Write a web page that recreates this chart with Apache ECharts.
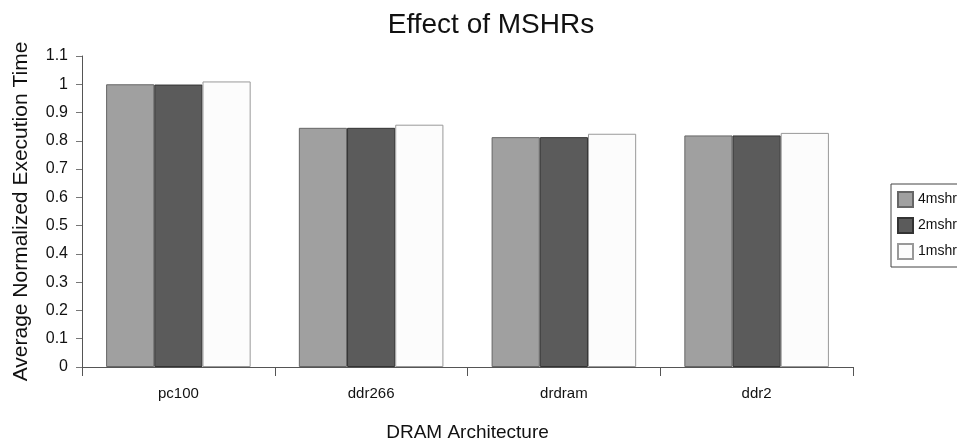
<!DOCTYPE html>
<html>
<head>
<meta charset="utf-8">
<script src="https://cdn.jsdelivr.net/npm/echarts@6/dist/echarts.min.js"></script>
<style>html,body{margin:0;padding:0;background:#fff;}#c{width:957px;height:439px;}</style>
</head>
<body>
<div id="c"></div>
<script>
const categories = ['pc100', 'ddr266', 'drdram', 'ddr2'];
const seriesNames = ['4mshr', '2mshr', '1mshr'];
const mshr4 = [1.0, 0.846, 0.813, 0.819];
const mshr2 = [0.999, 0.846, 0.813, 0.819];
const mshr1 = [1.01, 0.857, 0.825, 0.828];
const yTicks = ['0','0.1','0.2','0.3','0.4','0.5','0.6','0.7','0.8','0.9','1','1.1'];

const fills = ['#a0a0a0', '#5b5b5b', '#fcfcfc'];
const borders = ['#666666', '#333333', '#999999'];
const values = [mshr4, mshr2, mshr1];
const font = 'Liberation Sans, Arial, sans-serif';

const chart = echarts.init(document.getElementById('c'), null, {renderer: 'canvas'});
chart.setOption({
  animation: false,
  backgroundColor: '#ffffff',
  title: {
    text: 'Effect of MSHRs',
    left: 486, top: 6, textAlign: 'center',
    textStyle: {fontFamily: font, fontSize: 28, fontWeight: 'normal', color: '#111'}
  },
  legend: {
    orient: 'vertical',
    left: 891, top: 184,
    padding: [7, 10, 7, 6],
    itemWidth: 15, itemHeight: 15, itemGap: 9,
    icon: 'rect',
    borderColor: '#444', borderWidth: 1, borderRadius: 0,
    textStyle: {fontFamily: font, fontSize: 14, color: '#111'},
    data: seriesNames
  },
  grid: {left: 82, right: 104, top: 56, bottom: 72, containLabel: false, outerBoundsMode: 'none'},
  xAxis: {
    type: 'category',
    data: categories,
    name: 'DRAM Architecture',
    nameLocation: 'middle',
    nameGap: 56,
    nameTextStyle: {fontFamily: font, fontSize: 19, color: '#111'},
    axisLine: {lineStyle: {color: '#555', width: 1}},
    axisTick: {show: true, length: 9, alignWithLabel: false, lineStyle: {color: '#555'}},
    axisLabel: {fontFamily: font, fontSize: 15, color: '#111', margin: 19}
  },
  yAxis: {
    type: 'value',
    min: 0, max: 1.1, interval: 0.1,
    name: 'Average Normalized Execution Time',
    nameLocation: 'middle',
    nameGap: 50,
    nameTextStyle: {fontFamily: font, fontSize: 21, color: '#111'},
    axisLine: {show: true, lineStyle: {color: '#555', width: 1}},
    axisTick: {show: true, length: 6, lineStyle: {color: '#777'}},
    splitLine: {show: false},
    axisLabel: {
      fontFamily: font, fontSize: 16, color: '#111', margin: 14,
      formatter: function (v) { return yTicks[Math.round(v * 10)]; }
    }
  },
  series: seriesNames.map((n, i) => ({
    name: n,
    type: 'bar',
    data: values[i],
    barGap: '0%',
    barCategoryGap: '25%',
    itemStyle: {color: fills[i], borderColor: borders[i], borderWidth: 1}
  }))
});
</script>
</body>
</html>
